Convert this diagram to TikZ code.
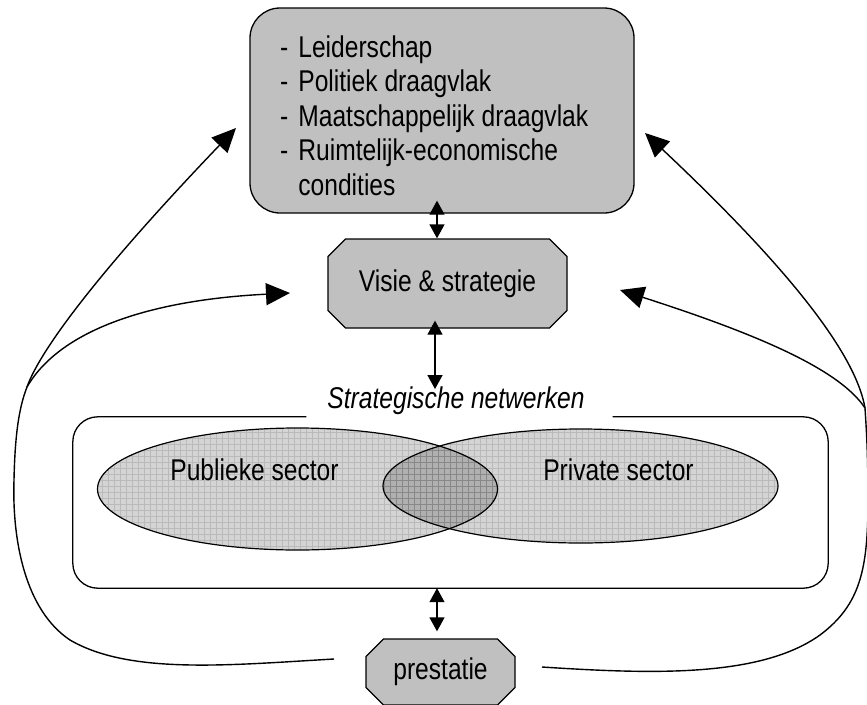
\documentclass[tikz,border=0pt]{standalone}
\usepackage{fontspec}
\setmainfont{Liberation Sans}[FakeStretch=0.82]
\usetikzlibrary{arrows.meta,shapes.geometric,shapes.misc}
\definecolor{boxgray}{HTML}{C0C0C0}

\tikzset{
  box/.style={draw, line width=1.3pt, fill=boxgray},
  octa/.style={box, chamfered rectangle, inner sep=0pt},
  dbl/.style={{Triangle[length=14pt,width=15pt]}-{Triangle[length=14pt,width=15pt]}, line width=1.3pt},
  fb/.style={line width=1.4pt},
  feedback/.style={fb, -{Triangle[length=24pt,width=22pt]}},
  sector/.style={ellipse, draw, line width=1.2pt, fill=black, fill opacity=0.17, inner sep=0pt},
  texture/.style={draw=black, draw opacity=0.12, line width=0.6pt, step=6pt},
  bigfont/.style={font=\fontsize{30}{34.5}\selectfont}
}

\begin{document}
\begin{tikzpicture}[x=1pt, y=-1pt, bigfont]
\useasboundingbox (0,0) rectangle (867,704);

% conditions box
\node[box, rounded corners=30pt, minimum width=384pt, minimum height=205pt] (factors) at (442,110.5) {};
\node[anchor=base west, inner sep=0pt] (items) at (280,57)
  {\begin{tabular}[t]{@{}l@{\hspace{10pt}}l@{}}
    - & Leiderschap\\
    - & Politiek draagvlak\\
    - & Maatschappelijk draagvlak\\
    - & Ruimtelijk-economische\\
      & condities
   \end{tabular}};

% vision and performance
\node[octa, chamfered rectangle xsep=26pt, minimum width=239pt, minimum height=89pt] (visie) at (447.5,283.5) {Visie \& strategie};
\node[octa, chamfered rectangle xsep=18pt, minimum width=149pt, minimum height=66pt] (prestatie) at (440.5,672) {prestatie};

% strategic networks
\node[minimum width=755pt, minimum height=171pt, inner sep=0pt] (network) at (450.5,502.5) {};
\node[anchor=base, inner sep=0pt, font=\fontsize{30}{34.5}\selectfont\itshape] (netlabel) at (456,408) {Strategische netwerken};
\draw[line width=1.3pt, rounded corners=25pt]
  ([xshift=-21pt]netlabel.west |- network.north) -- (network.north west) -- (network.south west)
  -- (network.south east) -- (network.north east) -- ([xshift=28pt]netlabel.east |- network.north);

\node[sector, minimum width=400pt, minimum height=122pt] (publiek) at (297.5,489) {};
\node[sector, minimum width=395pt, minimum height=114pt] (privaat) at (580.5,486) {};
\begin{scope}
  \clip (publiek.center) ellipse [x radius=200pt, y radius=61pt];
  \draw[texture] (publiek.west |- publiek.south) grid (publiek.east |- publiek.north);
\end{scope}
\begin{scope}
  \clip (privaat.center) ellipse [x radius=197.5pt, y radius=57pt];
  \draw[texture] (privaat.west |- privaat.south) grid (privaat.east |- privaat.north);
\end{scope}
\node[inner sep=0pt, anchor=base] (publiektxt) at (254.5,480) {Publieke sector};
\node[inner sep=0pt, anchor=base] (privaattxt) at (618.5,480) {Private sector};

% two-way links along the spine
\coordinate (spineA) at (437,0);
\coordinate (spineB) at (435,0);
\draw[dbl, shorten <=-13pt] (factors.south -| spineA) -- (visie.north -| spineA);
\draw[dbl, shorten <=-8pt, shorten >=-3pt] (visie.south -| spineB) -- (netlabel.north -| spineB);
\draw[dbl, shorten >=7pt] (network.south -| spineA) -- (prestatie.north -| spineA);

% feedback loops from performance
\coordinate (lfoot) at (334,659);
\coordinate (lfork) at (27,387);
\coordinate (ltop) at (236,128);
\coordinate (lmid) at (290,293);
\draw[fb] (lfoot) .. controls (230,665) and (130,675) .. (70,640)
  .. controls (25,610) and (12,540) .. (14,480)
  .. controls (15,430) and (20,405) .. (lfork);
\draw[feedback] (lfork) .. controls (40,350) and (100,270) .. (ltop);
\draw[feedback] (lfork) .. controls (60,330) and (150,300) .. (lmid);

\coordinate (rfoot) at (542,667);
\coordinate (rfork) at (865,408);
\coordinate (rtop) at (645,133);
\coordinate (rmid) at (620,290);
\draw[fb] (rfoot) .. controls (650,674) and (760,678) .. (820,635)
  .. controls (860,605) and (868,570) .. (868,500)
  .. controls (868,450) and (866,425) .. (rfork);
\draw[feedback] (rfork) .. controls (855,350) and (780,260) .. (rtop);
\draw[feedback] (rfork) .. controls (840,370) and (760,335) .. (rmid);
\end{tikzpicture}
\end{document}
